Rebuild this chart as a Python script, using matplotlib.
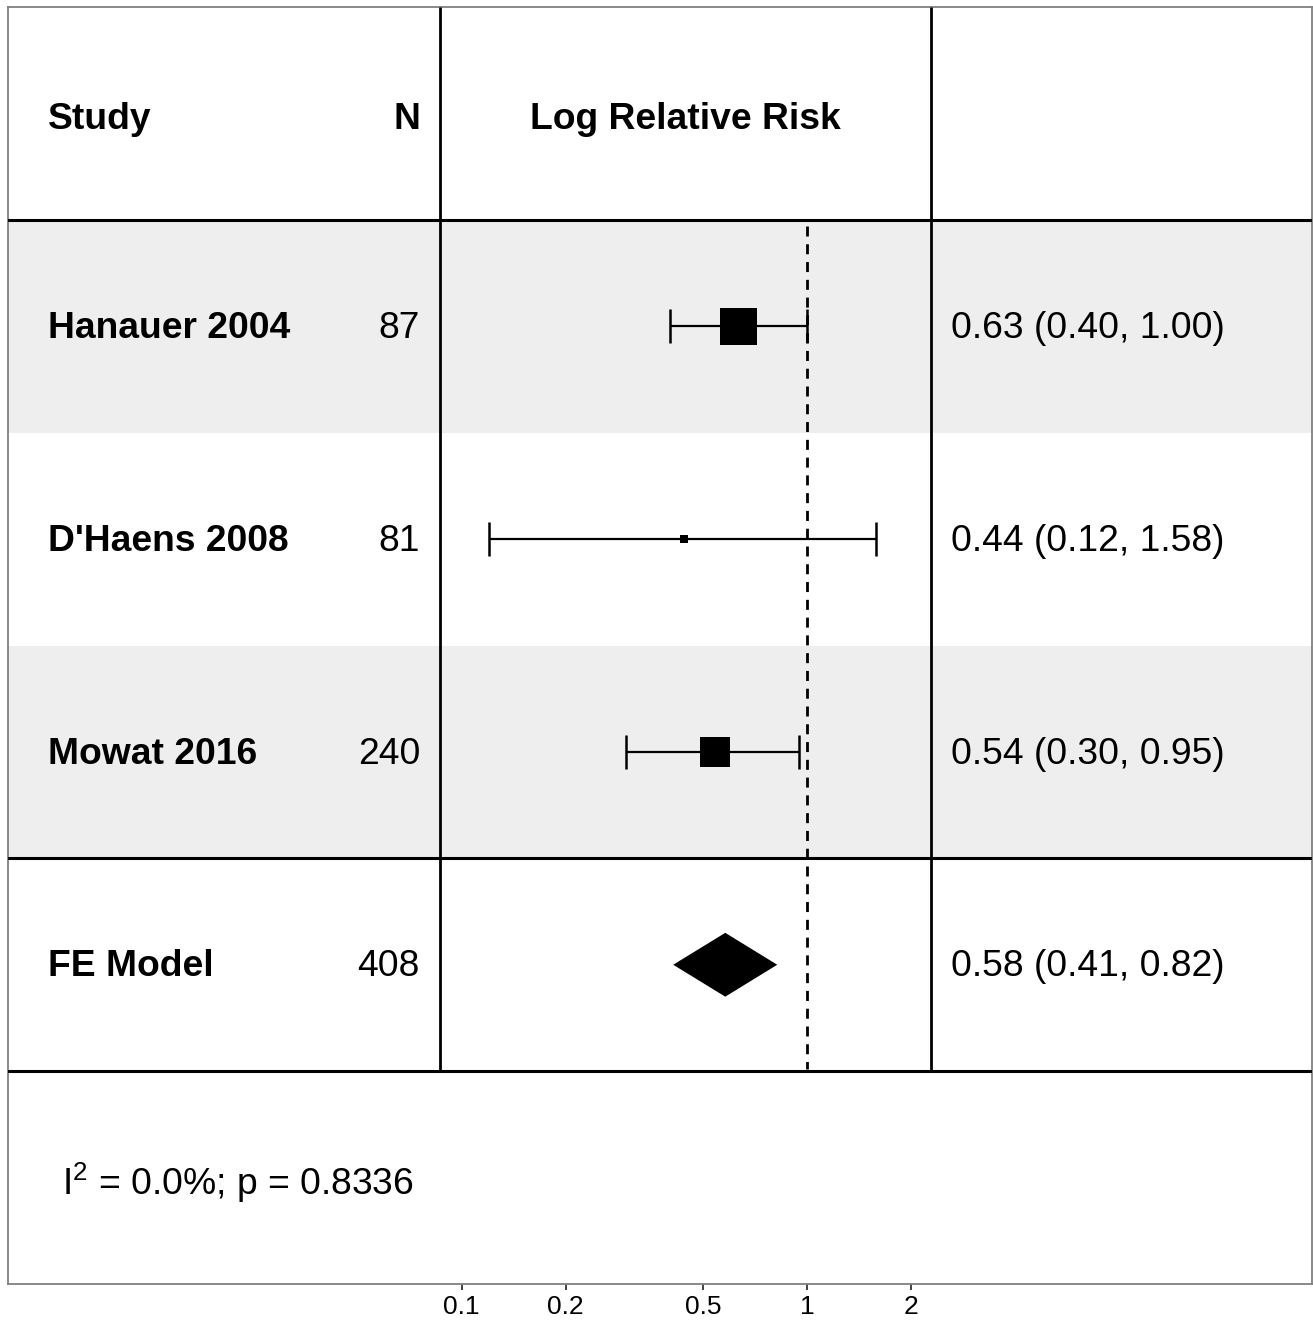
import numpy as np
import matplotlib
matplotlib.use("Agg")
import matplotlib.pyplot as plt
import matplotlib.transforms as mtransforms

plt.rcParams['font.family'] = ['Liberation Sans', 'DejaVu Sans']
plt.rcParams['mathtext.fontset'] = 'custom'
plt.rcParams['mathtext.rm'] = 'Liberation Sans'

# study data
studies = ["Hanauer 2004", "D'Haens 2008", "Mowat 2016"]
n_total = [87, 81, 240]
rr = [0.63, 0.44, 0.54]
rr_lo = [0.40, 0.12, 0.30]
rr_hi = [1.00, 1.58, 0.95]

# pooled fixed effect result
model_label = "FE Model"
fe_rr = 0.58
fe_lo = 0.41
fe_hi = 0.82
het_text = r"I$^{\mathrm{2}}$ = 0.0%; p = 0.8336"

ticks = [0.1, 0.2, 0.5, 1, 2]
tick_labels = ["0.1", "0.2", "0.5", "1", "2"]

fig = plt.figure(figsize=(13.13, 13.21), dpi=100)
W, H = 1313, 1321
ax = fig.add_axes([8 / W, (H - 1284) / H, 1304 / W, 1277 / H])

ax.set_xscale('log')
# 345.5 px per decade, 1.0 sits at x=807
ax.set_xlim(10 ** ((8 - 807) / 345.5), 10 ** ((1312 - 807) / 345.5))
ax.set_ylim(6, 0)

trans = mtransforms.blended_transform_factory(ax.transAxes, ax.transData)
fs = 26.8
dy = 0.01  # nudge text down a touch

# shaded study rows
for r in [1, 3]:
    ax.axhspan(r, r + 1, color='#EEEEEE', lw=0, zorder=0)

# grid lines of the table
for r in [1, 4, 5]:
    ax.axhline(r, color='black', lw=2.2, zorder=3)
for xf in [(440 - 8) / 1304, (931 - 8) / 1304]:
    ax.plot([xf, xf], [0, 5], transform=trans, color='black', lw=2.0, zorder=3,
            solid_capstyle='butt')

# reference line at RR = 1
ax.plot([1, 1], [1.03, 4.99], color='black', lw=2.0, ls=(0, (3.6, 2.8)), zorder=2)

# header
x_study = (48 - 8) / 1304
x_n = (420 - 8) / 1304
x_est = (951 - 8) / 1304
x_mid = (685.5 - 8) / 1304
ax.text(x_study, 0.52 + dy, "Study", transform=trans, fontsize=fs, fontweight='bold',
        ha='left', va='center')
ax.text(x_n, 0.52 + dy, "N", transform=trans, fontsize=fs, fontweight='bold',
        ha='right', va='center')
ax.text(x_mid, 0.52 + dy, "Log Relative Risk", transform=trans, fontsize=fs,
        fontweight='bold', ha='center', va='center')

# square size from inverse-variance weight
se = (np.log(rr_hi) - np.log(rr_lo)) / (2 * 1.96)
w = 1 / se ** 2
scaled = np.sqrt((w - w.min()) / (w.max() - w.min()))
side_px = 8 + 29 * scaled

for i, name in enumerate(studies):
    y = i + 1.5
    ax.text(x_study, y + dy, name, transform=trans, fontsize=fs, fontweight='bold',
            ha='left', va='center')
    ax.text(x_n, y + dy, str(n_total[i]), transform=trans, fontsize=fs,
            ha='right', va='center')
    ax.text(x_est, y + dy, f"{rr[i]:.2f} ({rr_lo[i]:.2f}, {rr_hi[i]:.2f})",
            transform=trans, fontsize=fs, ha='left', va='center')
    ax.errorbar([rr[i]], [y], xerr=[[rr[i] - rr_lo[i]], [rr_hi[i] - rr[i]]],
                fmt='none', ecolor='black', elinewidth=1.6, capsize=12,
                capthick=1.8, zorder=4)
    ax.scatter([rr[i]], [y], marker='s', s=(side_px[i] * 0.72) ** 2,
               color='black', linewidths=0, zorder=5)

# pooled row
y = 4.5
ax.text(x_study, y + dy, model_label, transform=trans, fontsize=fs, fontweight='bold',
        ha='left', va='center')
ax.text(x_n, y + dy, str(sum(n_total)), transform=trans, fontsize=fs,
        ha='right', va='center')
ax.text(x_est, y + dy, f"{fe_rr:.2f} ({fe_lo:.2f}, {fe_hi:.2f})",
        transform=trans, fontsize=fs, ha='left', va='center')
dh = 0.15
ax.fill([fe_lo, fe_rr, fe_hi, fe_rr], [y, y - dh, y, y + dh], color='black',
        lw=0, zorder=5)

# heterogeneity footer
ax.text((62 - 8) / 1304, 5.525, het_text, transform=trans, fontsize=fs,
        ha='left', va='center')

ax.set_yticks([])
ax.set_xticks(ticks)
ax.set_xticklabels(tick_labels)
ax.xaxis.set_minor_locator(matplotlib.ticker.NullLocator())
ax.tick_params(axis='x', length=4, width=1.3, color='#333333', labelsize=19,
               labelcolor='black', pad=4)
for sp in ax.spines.values():
    sp.set_color('#808080')
    sp.set_linewidth(1.3)

fig.savefig("out.png", dpi=100)
